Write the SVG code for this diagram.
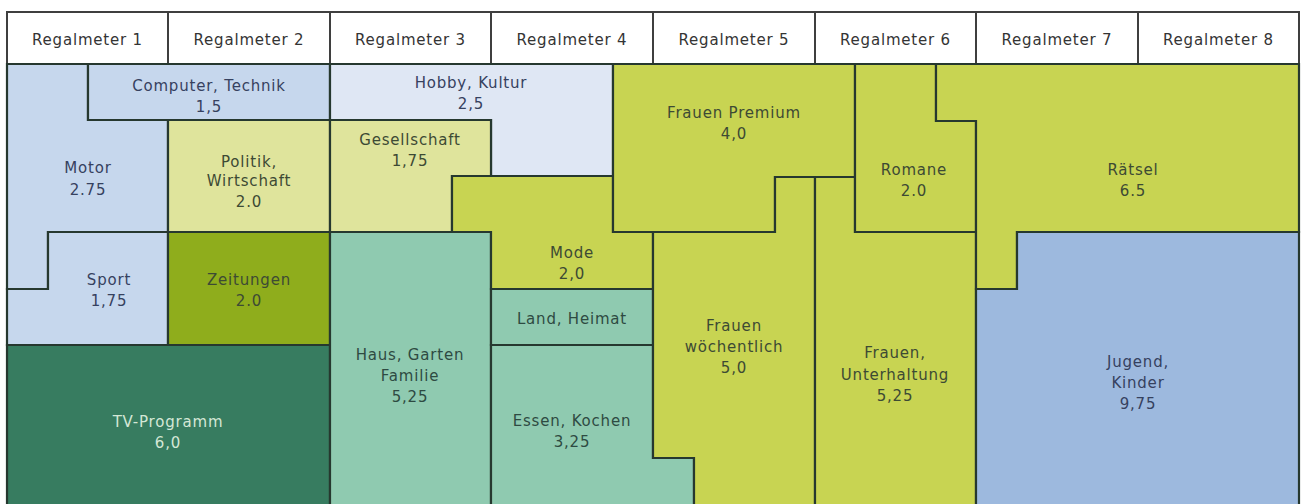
<svg xmlns="http://www.w3.org/2000/svg" width="1303" height="504" viewBox="0 0 1303 504">
<style>
  .hd { fill:#ffffff; stroke:#3f3f3f; stroke-width:2; }
  .ar { stroke:#26382f; stroke-width:2.2; stroke-linejoin:miter; }
  text { font-family:"DejaVu Sans","Liberation Sans",sans-serif; font-size:15px; letter-spacing:0.8px; text-anchor:middle; }
  .th { fill:#343434; }
  .tb { fill:#36415f; }
  .tg { fill:#3d4a34; }
  .tm { fill:#2e4a42; }
  .tl { fill:#d4e7d6; }
  .blue1 { fill:#c6d7ed; }
  .blue2 { fill:#dfe7f4; }
  .blue3 { fill:#9db9de; }
  .ylt { fill:#dfe49c; }
  .ygr { fill:#c8d452; }
  .olive { fill:#8fad1c; }
  .dkg { fill:#377c60; }
  .mint { fill:#8fcab0; }
</style>
<rect x="0" y="0" width="1303" height="504" fill="#ffffff"/>

<g id="header">
  <g id="rm1"><rect class="hd" x="7" y="12" width="161" height="52"/><text class="th" x="87.5" y="45">Regalmeter 1</text></g>
  <g id="rm2"><rect class="hd" x="168" y="12" width="162" height="52"/><text class="th" x="249" y="45">Regalmeter 2</text></g>
  <g id="rm3"><rect class="hd" x="330" y="12" width="161" height="52"/><text class="th" x="410.5" y="45">Regalmeter 3</text></g>
  <g id="rm4"><rect class="hd" x="491" y="12" width="162" height="52"/><text class="th" x="572" y="45">Regalmeter 4</text></g>
  <g id="rm5"><rect class="hd" x="653" y="12" width="162" height="52"/><text class="th" x="734" y="45">Regalmeter 5</text></g>
  <g id="rm6"><rect class="hd" x="815" y="12" width="161" height="52"/><text class="th" x="895.5" y="45">Regalmeter 6</text></g>
  <g id="rm7"><rect class="hd" x="976" y="12" width="162" height="52"/><text class="th" x="1057" y="45">Regalmeter 7</text></g>
  <g id="rm8"><rect class="hd" x="1138" y="12" width="161" height="52"/><text class="th" x="1218.5" y="45">Regalmeter 8</text></g>
</g>

<g id="motor"><polygon class="ar blue1" points="7,64 88,64 88,120 168,120 168,232 48,232 48,289 7,289"/>
  <text class="tb" x="88" y="173">Motor</text><text class="tb" x="88" y="195">2.75</text></g>
<g id="computer"><polygon class="ar blue1" points="88,64 330,64 330,120 88,120"/>
  <text class="tb" x="209" y="91">Computer, Technik</text><text class="tb" x="209" y="112">1,5</text></g>
<g id="sport"><polygon class="ar blue1" points="48,232 168,232 168,345 7,345 7,289 48,289"/>
  <text class="tb" x="109" y="285">Sport</text><text class="tb" x="109" y="306">1,75</text></g>
<g id="politik"><polygon class="ar ylt" points="168,120 330,120 330,232 168,232"/>
  <text class="tg" x="249" y="167">Politik,</text><text class="tg" x="249" y="186">Wirtschaft</text><text class="tg" x="249" y="207">2.0</text></g>
<g id="zeitungen"><polygon class="ar olive" points="168,232 330,232 330,345 168,345"/>
  <text class="tg" x="249" y="285">Zeitungen</text><text class="tg" x="249" y="306">2.0</text></g>
<g id="tv"><polygon class="ar dkg" points="7,345 330,345 330,507 7,507"/>
  <text class="tl" x="168" y="427">TV-Programm</text><text class="tl" x="168" y="448">6,0</text></g>
<g id="hobby"><polygon class="ar blue2" points="330,64 613,64 613,176 491,176 491,120 330,120"/>
  <text class="tb" x="471" y="88">Hobby, Kultur</text><text class="tb" x="471" y="109">2,5</text></g>
<g id="gesellschaft"><polygon class="ar ylt" points="330,120 491,120 491,176 452,176 452,232 330,232"/>
  <text class="tg" x="410" y="145">Gesellschaft</text><text class="tg" x="410" y="166">1,75</text></g>
<g id="haus"><polygon class="ar mint" points="330,232 491,232 491,507 330,507"/>
  <text class="tm" x="410" y="360">Haus, Garten</text><text class="tm" x="410" y="381">Familie</text><text class="tm" x="410" y="402">5,25</text></g>
<g id="mode"><polygon class="ar ygr" points="452,176 613,176 613,232 653,232 653,289 491,289 491,232 452,232"/>
  <text class="tg" x="572" y="258">Mode</text><text class="tg" x="572" y="279">2,0</text></g>
<g id="land"><polygon class="ar mint" points="491,289 653,289 653,345 491,345"/>
  <text class="tm" x="572" y="324">Land, Heimat</text></g>
<g id="essen"><polygon class="ar mint" points="491,345 653,345 653,458 694,458 694,507 491,507"/>
  <text class="tm" x="572" y="426">Essen, Kochen</text><text class="tm" x="572" y="447">3,25</text></g>
<g id="frauen-premium"><polygon class="ar ygr" points="613,64 855,64 855,177 775,177 775,232 613,232"/>
  <text class="tg" x="734" y="118">Frauen Premium</text><text class="tg" x="734" y="139">4,0</text></g>
<g id="frauen-woechentlich"><polygon class="ar ygr" points="653,232 775,232 775,177 815,177 815,507 694,507 694,458 653,458"/>
  <text class="tg" x="734" y="331">Frauen</text><text class="tg" x="734" y="352">wöchentlich</text><text class="tg" x="734" y="373">5,0</text></g>
<g id="frauen-unterhaltung"><polygon class="ar ygr" points="815,177 855,177 855,232 976,232 976,507 815,507"/>
  <text class="tg" x="895" y="358">Frauen,</text><text class="tg" x="895" y="380">Unterhaltung</text><text class="tg" x="895" y="401">5,25</text></g>
<g id="romane"><polygon class="ar ygr" points="855,64 936,64 936,121 976,121 976,232 855,232"/>
  <text class="tg" x="914" y="175">Romane</text><text class="tg" x="914" y="196">2.0</text></g>
<g id="raetsel"><polygon class="ar ygr" points="936,64 1299,64 1299,232 1017,232 1017,289 976,289 976,121 936,121"/>
  <text class="tg" x="1133" y="175">Rätsel</text><text class="tg" x="1133" y="196">6.5</text></g>
<g id="jugend"><polygon class="ar blue3" points="976,289 1017,289 1017,232 1299,232 1299,507 976,507"/>
  <text class="tb" x="1138" y="367">Jugend,</text><text class="tb" x="1138" y="388">Kinder</text><text class="tb" x="1138" y="409">9,75</text></g>

<g id="connectors"></g>
</svg>
